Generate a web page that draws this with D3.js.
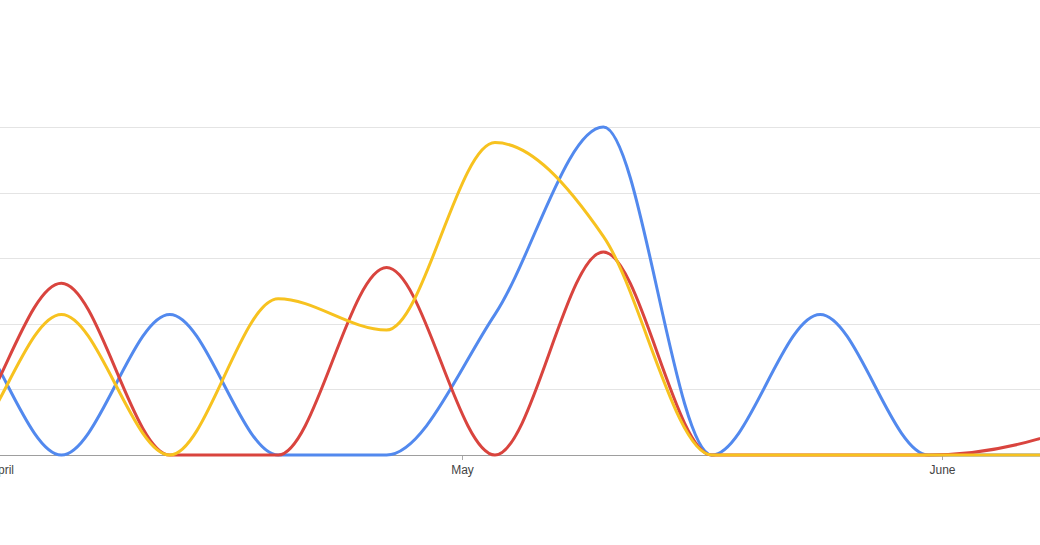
<html>
    <head>
        <title>Weekly trend</title>
        <style type="text/css">
            body{
                padding: 0px;
                margin: 0px;
                background: #fff;
            }
            svg{
                width: 1040px;
                height: 545px;
                display: block;
            }
            .grid line{
                stroke: #e4e4e4;
                stroke-width: 1px;
            }
            .xaxis text{
                font-family: Arial, "Liberation Sans", sans-serif;
                font-size: 12px;
                fill: #444;
            }
            .xaxis line{
                stroke: #aaa;
            }
            .series{
                fill: none;
                stroke-width: 3px;
                stroke-linejoin: round;
            }
        </style>
        <script src="https://d3js.org/d3.v7.min.js"></script>
        <script type="text/javascript">
            // weekly points, Sundays
            var weeks = ["2020-03-22","2020-03-29","2020-04-05","2020-04-12","2020-04-19","2020-04-26",
                         "2020-05-03","2020-05-10","2020-05-17","2020-05-24","2020-05-31","2020-06-07","2020-06-14"];
            var blueVals   = [0, 9, 0, 9, 0, 0,  9, 21, 0, 9, 0, 0, 0];
            var redVals    = [5, 1, 11, 0, 0, 12, 0, 13, 0, 0, 0, 1, 4];
            var yellowVals = [4, 0, 9, 0, 10, 8, 20, 14, 0, 0, 0, 0, 0];
            var monthTicks = ["2020-04-01","2020-05-01","2020-06-01"];
            var gridVals = [0, 4.2, 8.4, 12.6, 16.8, 21];

            var W = 1040, H = 545;

            window.onload = function()
            {
                var svg = d3.select("body").append("svg").attr("viewBox", "0 0 " + W + " " + H);
                var parse = d3.utcParse("%Y-%m-%d");
                var dates = weeks.map(parse);

                // May 1 sits at 462px and June 1 at 942px in the reference
                var x = d3.scaleUtc()
                    .domain([parse("2020-05-01"), parse("2020-06-01")])
                    .range([462, 942]);
                var y = d3.scaleLinear().domain([0, 21]).range([455, 127]);
                // the weekly points sit a couple of px right of midnight
                var px = function(d){ return x(d) + 2; };

                // horizontal grid
                svg.append("g").attr("class", "grid")
                    .selectAll("line").data(gridVals.slice(1)).enter().append("line")
                    .attr("x1", 0).attr("x2", W)
                    .attr("y1", function(d){ return Math.round(y(d)) + 0.5; })
                    .attr("y2", function(d){ return Math.round(y(d)) + 0.5; });

                // x axis
                var xAxis = d3.axisBottom(x)
                    .tickValues(monthTicks.map(parse))
                    .tickFormat(d3.utcFormat("%B"))
                    .tickSize(5)
                    .tickSizeOuter(0)
                    .tickPadding(5);
                var gx = svg.append("g").attr("class", "xaxis")
                    .attr("transform", "translate(0," + y(0) + ")")
                    .call(xAxis);
                gx.select(".domain").remove();
                gx.selectAll("text").attr("font-family", null).attr("font-size", null);
                // first label is half off the left edge; nudge like the original
                gx.selectAll("text").filter(function(d, i){ return i == 0; }).attr("dx", 4);

                // baseline
                svg.append("line")
                    .attr("x1", 0).attr("x2", W)
                    .attr("y1", y(0) + 0.5).attr("y2", y(0) + 0.5)
                    .attr("stroke", "#9e9e9e").attr("stroke-width", 1);

                var line = d3.line()
                    .x(function(d, i){ return px(dates[i]); })
                    .y(function(d){ return y(d); })
                    .curve(d3.curveMonotoneX);

                var series = [
                    {vals: blueVals, color: "#5289ee"},
                    {vals: redVals, color: "#d9443e"},
                    {vals: yellowVals, color: "#f7c21f"}
                ];

                svg.selectAll("path.series").data(series).enter().append("path")
                    .attr("class", "series")
                    .attr("stroke", function(d){ return d.color; })
                    .attr("d", function(d){ return line(d.vals); });
            }
        </script>
    </head>
    <body>
    
    </body>
</html>
